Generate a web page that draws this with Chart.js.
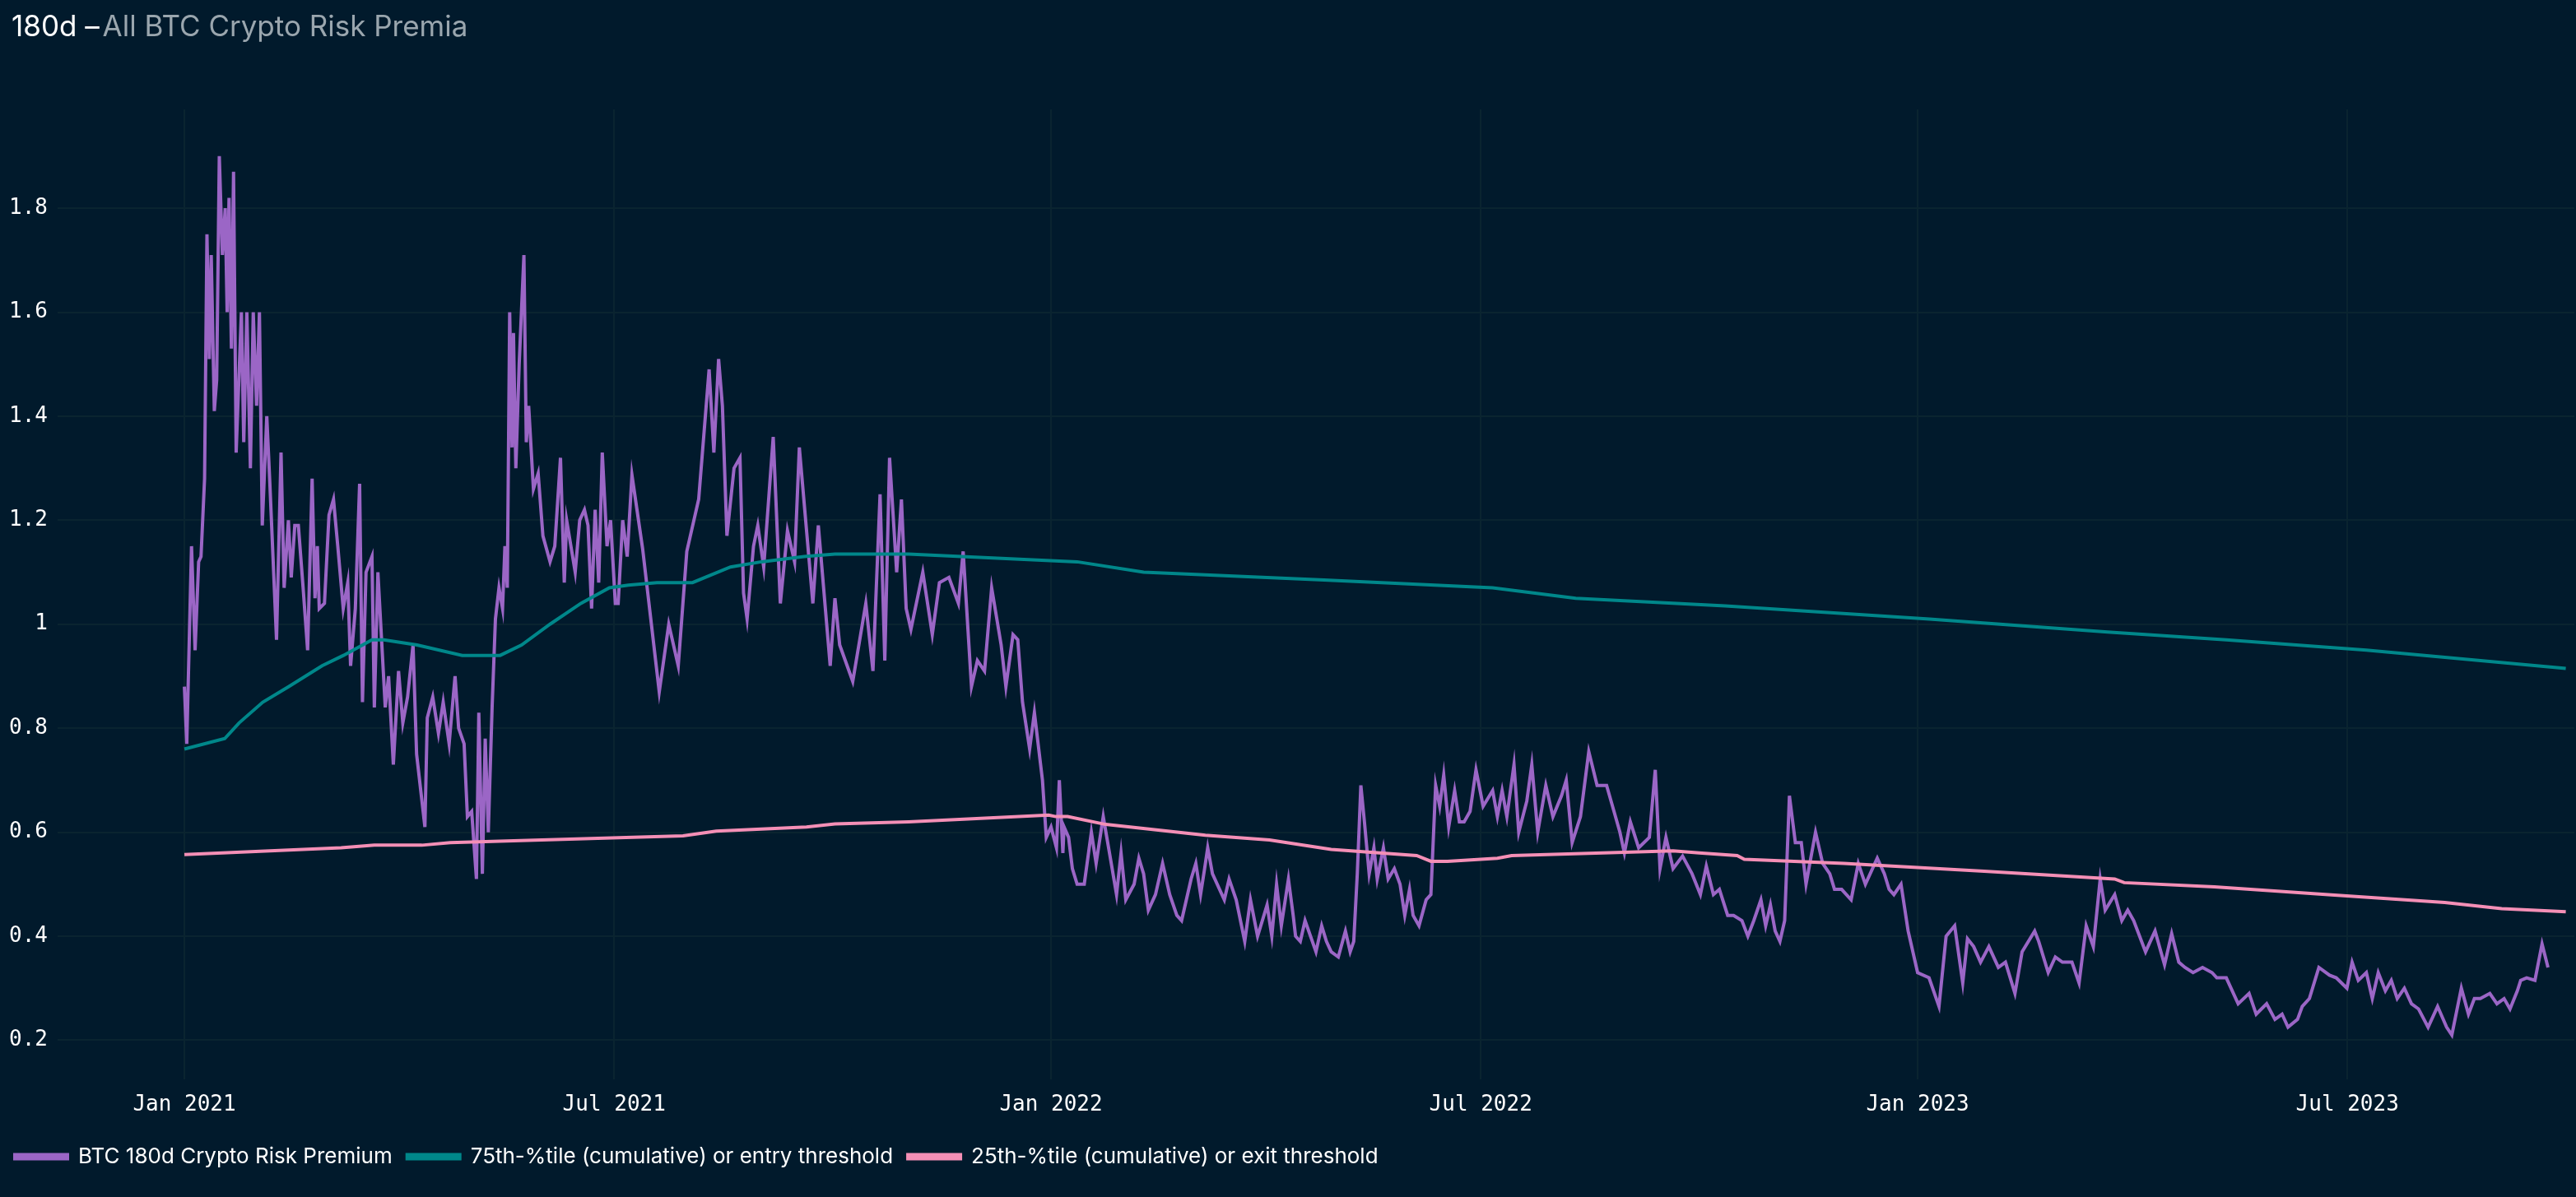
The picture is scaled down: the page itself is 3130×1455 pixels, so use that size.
<!DOCTYPE html>
<html><head><meta charset="utf-8">
<script src="https://cdn.jsdelivr.net/npm/chart.js@4"></script>
<style>html,body{margin:0;padding:0;background:#011a2c;}#w{width:3130px;height:1455px;}</style>
</head><body><div id="w"><canvas id="c"></canvas></div>
<script>
// day offsets from 2021-01-01
const btcDays=[0,1,3,4.5,6,7,8.5,9.5,10.5,11.3,12.6,13.6,14.7,16,17.2,18,18.8,19.8,20.7,21.8,24,25,26.3,27.8,29,30.4,31.6,32.8,34.7,36,38.8,40.7,42,43.8,45,46.5,48,50,51.9,53.8,55,56,56.8,59,60.9,62.8,64.6,66.9,68.8,70,72,73.8,75,76.5,79,80,81.5,84.6,86,88,90.2,92,94,96.3,97.8,101.3,102.3,104.6,107,109,111.5,114,115.5,117.8,119.2,121,123,124,125.5,126.7,128,129.6,131,132.5,134,135,136,137,138,138.6,139.6,141,143,144,145,147,149,151,154,156,158.4,160,161,164.6,166.5,168.5,170,171.5,173,174.5,176,178,179.5,181.5,182.7,184.6,186.5,188.5,193,200,204,208,211.6,216.6,221,223,225,226.6,228.5,231.5,234,235.5,237,239.7,241.5,244,248,251,254,257,259,264.7,267,272,274,276,281.5,287,290,293,295,297,300,302,304,306,311,315,318,322,326,328,331.5,334,337,340,344,346,349,351,353,356,358,361.4,363,365,367.3,368.5,370,370.5,372.4,374,376,379,382,384,387,390,392.6,394.5,396.5,400,402,404,406,409,412,415,418,420,424,426,428,429.7,431,433,438,440,443,446.6,449,452,456,458,460,462,465,467,468,470,472,476.6,479,481,483,486,489,491,492.5,494,495.5,497,499,501,502.4,505,507,509.6,512,514,516,517.5,520,523,525,527,528.7,530.4,532.5,535,537,539,541.5,544,547,551,553,555,557,560,562,565.4,567.5,570,573.4,576.4,580,582,584.5,588,591.5,595,599,601.5,604.6,606.5,609,612.5,617,619.5,621.5,624,627,631,635,638.5,641,644,646.5,650,652.5,656,658.5,661,664,666,668,670,672,674,676,678.5,681,683,685,687,690,693,695,698,702,705,708,713,716,718,720,723,726,730,734.8,739,742,745.6,749,751,753.6,756.5,760,764,767,771,774,779.3,781,785,788,791,795,798,801,804,806.9,809,813,816,818.5,821,826,830,834,837,840,842.6,846,850,854,856,860,865,869.6,872.6,877,880.5,883.5,886,890,892,895,899,903.5,906.3,910.8,913,915.6,919,921.5,924,927,929.5,932,935,938,941,945,949,952.8,955,959,962,964.5,967,971,974,977,979.5,982.6,984,986.5,990,993,995.5,998.4,1001];
const btcVals=[0.88,0.77,1.15,0.95,1.12,1.13,1.28,1.75,1.51,1.71,1.41,1.47,1.90,1.71,1.80,1.60,1.82,1.53,1.87,1.33,1.60,1.35,1.60,1.30,1.60,1.42,1.60,1.19,1.40,1.27,0.97,1.33,1.07,1.20,1.09,1.19,1.19,1.07,0.95,1.28,1.05,1.15,1.03,1.04,1.21,1.24,1.15,1.03,1.08,0.92,1.03,1.27,0.85,1.10,1.13,0.84,1.10,0.84,0.90,0.73,0.91,0.81,0.86,0.96,0.75,0.61,0.82,0.86,0.79,0.85,0.77,0.90,0.80,0.77,0.63,0.64,0.51,0.83,0.52,0.78,0.60,0.84,1.01,1.07,1.03,1.15,1.07,1.60,1.34,1.56,1.30,1.50,1.71,1.35,1.42,1.26,1.29,1.17,1.12,1.15,1.32,1.08,1.20,1.10,1.20,1.22,1.19,1.03,1.22,1.08,1.33,1.15,1.20,1.04,1.04,1.20,1.13,1.287,1.145,0.87,1.0,0.92,1.14,1.24,1.49,1.33,1.51,1.42,1.17,1.30,1.32,1.06,1.01,1.15,1.19,1.11,1.36,1.04,1.18,1.12,1.34,1.04,1.19,0.92,1.05,0.96,0.89,1.04,0.91,1.25,0.93,1.32,1.10,1.24,1.03,0.99,1.10,0.98,1.08,1.09,1.04,1.14,0.88,0.93,0.91,1.07,0.96,0.88,0.98,0.97,0.85,0.76,0.83,0.70,0.59,0.61,0.57,0.70,0.56,0.61,0.59,0.53,0.50,0.50,0.60,0.54,0.63,0.55,0.48,0.56,0.47,0.50,0.55,0.52,0.45,0.48,0.54,0.48,0.44,0.43,0.51,0.54,0.48,0.53,0.57,0.52,0.47,0.51,0.47,0.39,0.47,0.40,0.46,0.40,0.50,0.42,0.51,0.44,0.40,0.39,0.43,0.37,0.42,0.39,0.37,0.36,0.41,0.37,0.39,0.52,0.69,0.62,0.52,0.57,0.51,0.57,0.51,0.53,0.50,0.44,0.49,0.44,0.42,0.47,0.48,0.69,0.65,0.71,0.61,0.68,0.62,0.62,0.64,0.72,0.65,0.68,0.63,0.68,0.63,0.73,0.60,0.66,0.73,0.60,0.69,0.63,0.67,0.70,0.58,0.63,0.755,0.69,0.69,0.65,0.60,0.56,0.62,0.57,0.59,0.72,0.53,0.59,0.53,0.554,0.52,0.48,0.535,0.48,0.49,0.44,0.44,0.43,0.40,0.43,0.47,0.42,0.46,0.41,0.39,0.43,0.67,0.58,0.58,0.50,0.55,0.60,0.54,0.52,0.49,0.49,0.47,0.54,0.50,0.55,0.52,0.49,0.48,0.50,0.41,0.33,0.32,0.265,0.40,0.42,0.31,0.395,0.38,0.35,0.38,0.34,0.35,0.29,0.37,0.41,0.39,0.33,0.36,0.35,0.35,0.31,0.42,0.38,0.51,0.45,0.48,0.43,0.45,0.43,0.37,0.41,0.345,0.405,0.35,0.34,0.33,0.34,0.33,0.32,0.32,0.27,0.29,0.25,0.27,0.24,0.25,0.225,0.24,0.265,0.28,0.34,0.325,0.32,0.30,0.35,0.315,0.33,0.28,0.33,0.295,0.315,0.28,0.30,0.27,0.26,0.225,0.265,0.225,0.21,0.30,0.25,0.28,0.28,0.29,0.27,0.28,0.26,0.295,0.315,0.32,0.315,0.385,0.34];
const p75Days=[0,17,23,33,44,58,67,79,84,98,117,123,133,142,154,167,179,187,199,214,230,243,261,274,305,376,404,480,551,586,649,735,810,860,919,1003];
const p75Vals=[0.76,0.78,0.81,0.85,0.88,0.92,0.94,0.97,0.97,0.96,0.94,0.94,0.94,0.96,1.0,1.04,1.07,1.075,1.08,1.08,1.11,1.12,1.13,1.135,1.135,1.12,1.10,1.085,1.07,1.05,1.035,1.01,0.985,0.97,0.95,0.915];
const p25Days=[0,66,80,100,112,186,210,224,262,274,305,364,367,372,388,430,457,483,519,525,532,553,559,627,638,654,657,699,758,813,817,855,903,952,976,1003];
const p25Vals=[0.557,0.57,0.575,0.575,0.58,0.59,0.593,0.602,0.61,0.616,0.62,0.633,0.63,0.63,0.615,0.594,0.585,0.567,0.555,0.544,0.544,0.55,0.555,0.564,0.56,0.555,0.548,0.54,0.525,0.51,0.503,0.495,0.48,0.465,0.453,0.447];
const xTickDays=[0,181,365,546,730,911];
const xTickLabels=['Jan 2021','Jul 2021','Jan 2022','Jul 2022','Jan 2023','Jul 2023'];
const yTicks=[0.2,0.4,0.6,0.8,1,1.2,1.4,1.6,1.8];
const seriesNames=['BTC 180d Crypto Risk Premium','75th-%tile (cumulative) or entry threshold','25th-%tile (cumulative) or exit threshold'];
const zip=(d,v)=>d.map((x,i)=>({x:x,y:v[i]}));

const titlePlugin={id:'ttl',afterDraw(ch){const c=ch.ctx;c.save();c.font='35px Inter';c.textBaseline='alphabetic';c.fillStyle='#ffffff';c.fillText('180d –',14,44);const w=c.measureText('180d – ').width;c.fillStyle='#9aa6ae';c.fillText('All BTC Crypto Risk Premia',14+w-6,44);c.restore();}};
const bgPlugin={id:'bg',beforeDraw(ch){const c=ch.ctx;c.save();c.fillStyle='#011a2c';c.fillRect(0,0,ch.width,ch.height);c.restore();}};

new Chart(document.getElementById('c'),{
type:'line',
data:{datasets:[
{label:seriesNames[0],data:zip(btcDays,btcVals),borderColor:'#9b66c6',backgroundColor:'#9b66c6',borderWidth:4,pointRadius:0,order:3,tension:0},
{label:seriesNames[1],data:zip(p75Days,p75Vals),borderColor:'#00878a',backgroundColor:'#00878a',borderWidth:4,pointRadius:0,order:2,tension:0},
{label:seriesNames[2],data:zip(p25Days,p25Vals),borderColor:'#f48fb6',backgroundColor:'#f48fb6',borderWidth:4,pointRadius:0,order:1,tension:0}
]},
options:{responsive:true,maintainAspectRatio:false,animation:false,devicePixelRatio:1,
layout:{padding:{top:133,right:2,left:0,bottom:26}},
plugins:{legend:{position:'bottom',align:'start',labels:{color:'#ffffff',font:{family:'Inter',size:26},boxWidth:64,boxHeight:5,padding:18,sort:(a,b)=>a.datasetIndex-b.datasetIndex}},tooltip:{enabled:false}},
scales:{
x:{type:'linear',min:-53.4,max:1006.6,
 afterBuildTicks(a){a.ticks=xTickDays.map(v=>({value:v}));},
 ticks:{color:'#ffffff',font:{family:'DejaVu Sans Mono',size:26},padding:16,maxRotation:0,autoSkip:false,callback:(v)=>xTickLabels[xTickDays.indexOf(v)]},
 grid:{color:'#0a2430',lineWidth:2,drawTicks:false},border:{display:false}},
y:{type:'linear',min:0.125,max:1.99,
 afterBuildTicks(a){a.ticks=yTicks.map(v=>({value:v}));},
 afterFit(a){a.width=70;},
 ticks:{color:'#ffffff',font:{family:'DejaVu Sans Mono',size:26},padding:12,callback:(v)=>String(Number(v.toFixed(1)))},
 grid:{color:'#0a2430',lineWidth:2,drawTicks:false},border:{display:false}}
}},
plugins:[bgPlugin,titlePlugin]});
</script></body></html>
